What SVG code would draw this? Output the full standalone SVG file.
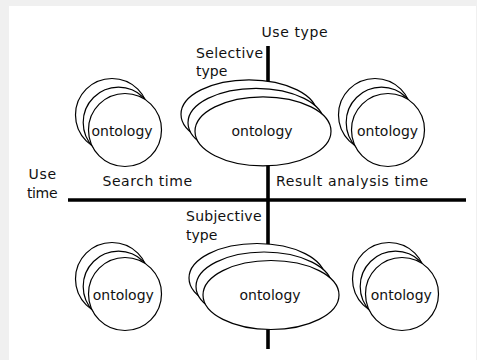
<svg xmlns="http://www.w3.org/2000/svg" width="477" height="360" viewBox="0 0 477 360">
  <style>
    .t { font-family: "DejaVu Sans", "Liberation Sans", sans-serif; font-size: 14px; fill: #111; }
    .c { text-anchor: middle; }
    .s { fill: #fff; stroke: #000; stroke-width: 1.2; }
    .axis { stroke: #000; stroke-width: 3.6; fill: none; }
  </style>
  <defs>
    <g id="stackC">
      <circle class="s" cx="-13" cy="-15" r="36.5"/>
      <circle class="s" cx="-6.5" cy="-7.5" r="35.3"/>
      <circle class="s" cx="0" cy="0" r="36.5"/>
    </g>
    <g id="stackE">
      <ellipse class="s" cx="-14" cy="-17" rx="68" ry="34.5"/>
      <ellipse class="s" cx="-7" cy="-8.5" rx="68" ry="34.5"/>
      <ellipse class="s" cx="0" cy="0" rx="68" ry="34.5"/>
    </g>
  </defs>
  <rect x="0" y="0" width="477" height="360" fill="#f0f0f0"/>
  <rect x="9" y="6" width="467" height="354" fill="#fff"/>

  <g id="connectors">
    <line class="axis" x1="268" y1="46" x2="268" y2="349"/>
    <line class="axis" x1="68" y1="200" x2="466" y2="200"/>
  </g>

  <g id="axis-labels">
    <text class="t" x="261.5" y="36.5" textLength="66" lengthAdjust="spacing">Use type</text>
    <text class="t" x="196" y="57.5" textLength="67" lengthAdjust="spacing">Selective</text>
    <text class="t" x="196" y="76">type</text>
    <text class="t" x="28.5" y="178.5" textLength="27.5" lengthAdjust="spacing">Use</text>
    <text class="t" x="27" y="197.5" textLength="30.5" lengthAdjust="spacing">time</text>
    <text class="t" x="102.5" y="186" textLength="89.5" lengthAdjust="spacing">Search time</text>
    <text class="t" x="276" y="186" textLength="152" lengthAdjust="spacing">Result analysis time</text>
    <text class="t" x="186" y="221" textLength="75.5" lengthAdjust="spacing">Subjective</text>
    <text class="t" x="186" y="239.5">type</text>
  </g>

  <g id="node-top-left">
    <use href="#stackC" x="125" y="130"/>
    <text class="t c" x="122" y="136">ontology</text>
  </g>
  <g id="node-top-center">
    <use href="#stackE" x="263" y="131.3"/>
    <text class="t c" x="262" y="135.5">ontology</text>
  </g>
  <g id="node-top-right">
    <use href="#stackC" x="388" y="130"/>
    <text class="t c" x="387.5" y="135.5">ontology</text>
  </g>
  <g id="node-bottom-left">
    <use href="#stackC" x="125" y="294"/>
    <text class="t c" x="123.3" y="300">ontology</text>
  </g>
  <g id="node-bottom-center">
    <use href="#stackE" x="271" y="295"/>
    <text class="t c" x="270" y="300">ontology</text>
  </g>
  <g id="node-bottom-right">
    <use href="#stackC" x="402" y="294"/>
    <text class="t c" x="401.3" y="300">ontology</text>
  </g>
</svg>
